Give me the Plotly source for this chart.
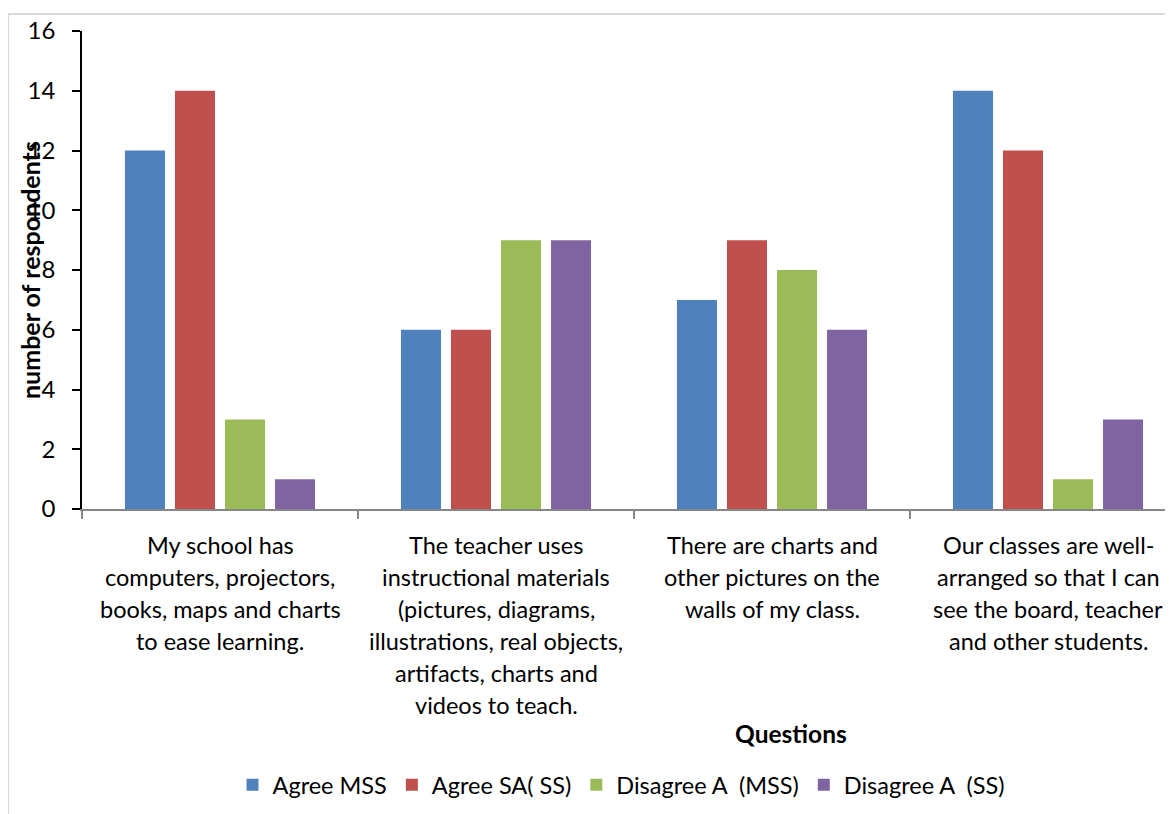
import plotly.graph_objects as go

categories = ["Q1", "Q2", "Q3", "Q4"]
category_labels = [
    ["My school has", "computers, projectors,", "books, maps and charts", "to ease learning."],
    ["The teacher uses", "instructional materials", "(pictures, diagrams,", "illustrations, real objects,",
     "artifacts, charts and", "videos to teach."],
    ["There are charts and", "other pictures on the", "walls of my class."],
    ["Our classes are well-", "arranged so that I can", "see the board, teacher", "and other students."],
]
series_names = ["Agree MSS", "Agree SA( SS)", "Disagree A\u00a0\u00a0(MSS)", "Disagree A\u00a0\u00a0(SS)"]
agree_mss = [12, 6, 7, 14]
agree_sa_ss = [14, 6, 9, 12]
disagree_mss = [3, 9, 8, 1]
disagree_ss = [1, 9, 6, 3]
y_ticks = [0, 2, 4, 6, 8, 10, 12, 14, 16]

colors = ["#4F81BD", "#C0504D", "#9BBB59", "#8064A2"]
FONT = "Lato"

fig = go.Figure()
for name, vals, col in zip(series_names, [agree_mss, agree_sa_ss, disagree_mss, disagree_ss], colors):
    fig.add_trace(go.Bar(x=categories, y=vals, name=name, marker=dict(color=col, line=dict(width=0))))

# page body has an 8px margin; work in page pixels and subtract it
OFF = 8
W, H = 1173 - OFF, 814 - OFF
L, T = 82 - OFF, 31 - OFF
Y0 = 509 - OFF
B = H - Y0
plot_w = W - L
plot_h = Y0 - T
cat_px = 276.0
n_visible = plot_w / cat_px


def px_x(p):
    return (p - OFF - L) / plot_w


def px_y(p):
    return (Y0 - (p - OFF)) / plot_h


annotations = []
for cat, lines in zip(categories, category_labels):
    for i, line in enumerate(lines):
        annotations.append(dict(
            x=cat, xref="x", y=0, yref="paper", yanchor="middle", xanchor="center",
            yshift=-36 - 32 * i, text=line, showarrow=False,
            font=dict(family=FONT, size=23.5, color="#000000")))

annotations.append(dict(
    x=px_x(791), xref="paper", y=px_y(733), yref="paper",
    text="<b>Questions</b>", showarrow=False, xanchor="center", yanchor="middle",
    font=dict(family=FONT, size=24.5, color="#000000")))
annotations.append(dict(
    x=px_x(30), xref="paper", y=px_y(270), yref="paper", textangle=-90,
    text="<b>number of respondents</b>", showarrow=False, xanchor="center", yanchor="middle",
    font=dict(family=FONT, size=25, color="#000000")))

shapes = [
    dict(type="line", xref="paper", yref="paper", x0=px_x(8), x1=1.05,
         y0=px_y(14), y1=px_y(14), line=dict(color="#D9D9D9", width=2)),
    dict(type="line", xref="paper", yref="paper", x0=px_x(8), x1=px_x(8),
         y0=px_y(14), y1=-0.8, line=dict(color="#D9D9D9", width=2)),
]

fig.update_layout(
    width=W, height=H,
    margin=dict(l=L, r=0, t=T, b=B, pad=0),
    paper_bgcolor="white", plot_bgcolor="white",
    barmode="group", bargap=0.275, bargroupgap=0.2,
    font=dict(family=FONT, size=24, color="#000000"),
    showlegend=True,
    legend=dict(orientation="h", x=px_x(621), xanchor="center", y=px_y(785), yanchor="middle",
                font=dict(family=FONT, size=23.5, color="#000000"), itemwidth=30,
                bgcolor="rgba(0,0,0,0)"),
    annotations=annotations,
    shapes=shapes,
)
fig.update_xaxes(
    range=[-0.5, -0.5 + n_visible], showticklabels=False, tickson="boundaries",
    ticks="outside", ticklen=8, tickcolor="#868686", tickwidth=1.5,
    showline=True, linecolor="#868686", linewidth=1.5, showgrid=False, zeroline=False, fixedrange=True)
fig.update_yaxes(
    range=[0, 16], tickvals=y_ticks, ticks="outside", ticklen=8, tickcolor="#000000", tickwidth=1.5,
    showline=True, linecolor="#000000", linewidth=1.5, showgrid=False, zeroline=False,
    tickfont=dict(family=FONT, size=24, color="#000000"), ticklabelstandoff=12)

fig.write_html("out.html")
